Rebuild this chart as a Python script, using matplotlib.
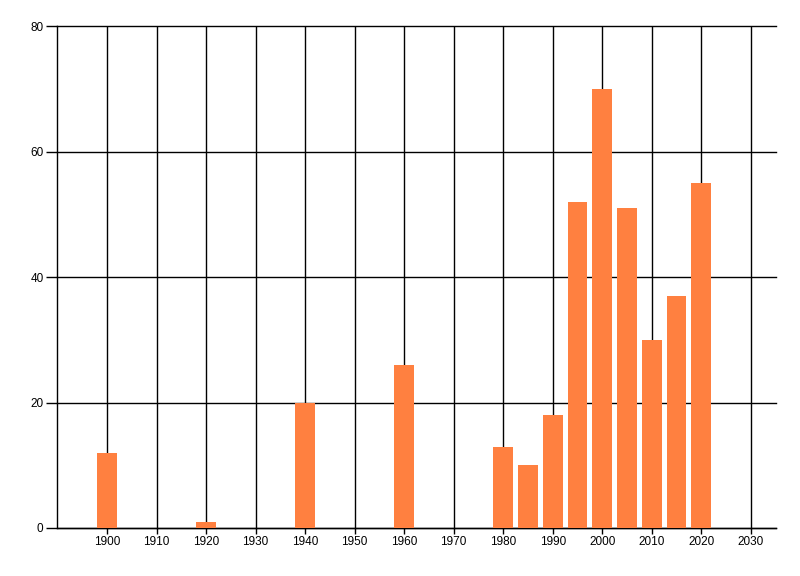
import matplotlib
matplotlib.use('Agg')
import matplotlib.pyplot as plt

# data
years = [1900, 1920, 1940, 1960, 1980, 1985, 1990, 1995, 2000, 2005, 2010, 2015, 2020]
values = [12, 1, 20, 26, 13, 10, 18, 52, 70, 51, 30, 37, 55]
x_ticks = list(range(1900, 2031, 10))
y_ticks = [0, 20, 40, 60, 80]

plt.rcParams['font.family'] = ['Liberation Sans', 'DejaVu Sans']

fig = plt.figure(figsize=(8, 5.76), dpi=100)
# plot area in pixels: left 57.5, right 775.5, top 26.5, bottom 528
ax = fig.add_axes([57.5 / 800, (576 - 528) / 576, (775.5 - 57.5) / 800, (528 - 26.5) / 576])

ax.bar(years, values, width=4, color='#FF8040', zorder=3)

ax.set_xlim(1890, 2035)
ax.set_ylim(0, 80)
ax.set_xticks(x_ticks)
ax.set_yticks(y_ticks)
ax.tick_params(axis='x', length=4, width=1, labelsize=8.5, pad=2)
ax.tick_params(axis='y', length=8, width=1, labelsize=8.5, pad=2)

ax.grid(True, color='black', linewidth=1, zorder=1)
ax.set_axisbelow(True)
for gl in ax.get_xgridlines() + ax.get_ygridlines():
    gl.set_clip_on(False)

for side in ['top', 'right']:
    ax.spines[side].set_visible(False)
for side in ['left', 'bottom']:
    ax.spines[side].set_linewidth(1)
    ax.spines[side].set_color('black')

fig.savefig('out.png', dpi=100)
